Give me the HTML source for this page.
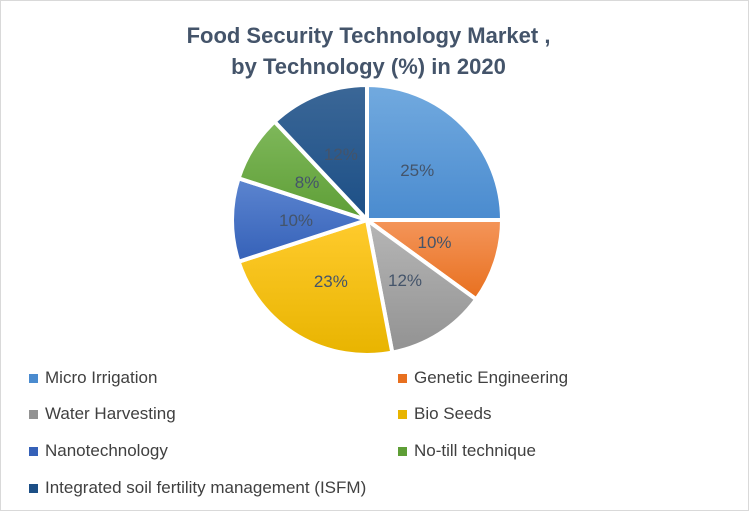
<!DOCTYPE html>
<html><head><meta charset="utf-8"><style>
body{margin:0;background:#fff;}
#c{position:relative;width:747px;height:509px;border:1px solid #d9d9d9;font-family:"Liberation Sans",sans-serif;overflow:hidden;}
.t{position:absolute;left:0;width:735px;text-align:center;font-size:22px;font-weight:bold;color:#44546a;}
.lg{position:absolute;font-size:17px;color:#404040;display:flex;align-items:center;}
.lg i{display:inline-block;width:9px;height:9px;margin-right:7px;}
</style></head><body>
<div id="c">
<div class="t" style="top:22px">Food Security Technology Market ,</div>
<div class="t" style="top:53px">by Technology (%) in 2020</div>
<svg id="pie" width="749" height="511" style="position:absolute;left:0;top:0">
<defs id="defs"></defs>
</svg>
<div id="legend"></div>
</div>
<script>
const categories=["Micro Irrigation","Genetic Engineering","Water Harvesting","Bio Seeds","Nanotechnology","No-till technique","Integrated soil fertility management (ISFM)"];
const values=[25,10,12,23,10,8,12];
const labels=["25%","10%","12%","23%","10%","8%","12%"];
const colors=[["#72aadf","#4a8bcf"],["#f4955a","#e8701f"],["#b6b6b6","#929292"],["#ffcb2d","#e8b400"],["#5c85d0","#3561b8"],["#7fb85b","#5e9e36"],["#3b6797","#1c4f86"]];
const svg=document.getElementById('pie'),defs=document.getElementById('defs');
const NS="http://www.w3.org/2000/svg";
const cx=366,cy=219,r=135;
const total=values.reduce((a,b)=>a+b,0);
let a0=0;
values.forEach((v,i)=>{
  const a1=a0+v/total*2*Math.PI;
  const g=document.createElementNS(NS,'linearGradient');
  g.setAttribute('id','g'+i);g.setAttribute('x1','0');g.setAttribute('y1','0');g.setAttribute('x2','0');g.setAttribute('y2','1');
  g.innerHTML='<stop offset="0" stop-color="'+colors[i][0]+'"/><stop offset="1" stop-color="'+colors[i][1]+'"/>';
  defs.appendChild(g);
  const p=(a)=>[cx+r*Math.sin(a),cy-r*Math.cos(a)];
  const [x0,y0]=p(a0),[x1,y1]=p(a1);
  const path=document.createElementNS(NS,'path');
  path.setAttribute('d',`M${cx},${cy}L${x0},${y0}A${r},${r} 0 ${a1-a0>Math.PI?1:0} 1 ${x1},${y1}Z`);
  path.setAttribute('fill','url(#g'+i+')');path.setAttribute('stroke','#fff');path.setAttribute('stroke-width','4');
  
  
  svg.appendChild(path);
  const m=(a0+a1)/2,lr=71;
  const t=document.createElementNS(NS,'text');
  t.setAttribute('x',cx+lr*Math.sin(m));t.setAttribute('y',cy-lr*Math.cos(m)+6);
  t.setAttribute('text-anchor','middle');t.setAttribute('font-size','17');t.setAttribute('fill','#44546a');
  t.setAttribute('font-family','Liberation Sans, sans-serif');
  t.textContent=labels[i];
  
  
  svg.appendChild(t);
  a0=a1;
});
const pos=[[28,377],[397,377],[28,413],[397,413],[28,450],[397,450],[28,487]];
const lg=document.getElementById('legend');
categories.forEach((c,i)=>{
  const d=document.createElement('div');
  d.className='lg';d.style.left=pos[i][0]+'px';d.style.top=(pos[i][1]-10)+'px';
  d.innerHTML='<i style="background:'+colors[i][1]+'"></i>'+c;
  
  
  lg.appendChild(d);
});
</script>
</body></html>
